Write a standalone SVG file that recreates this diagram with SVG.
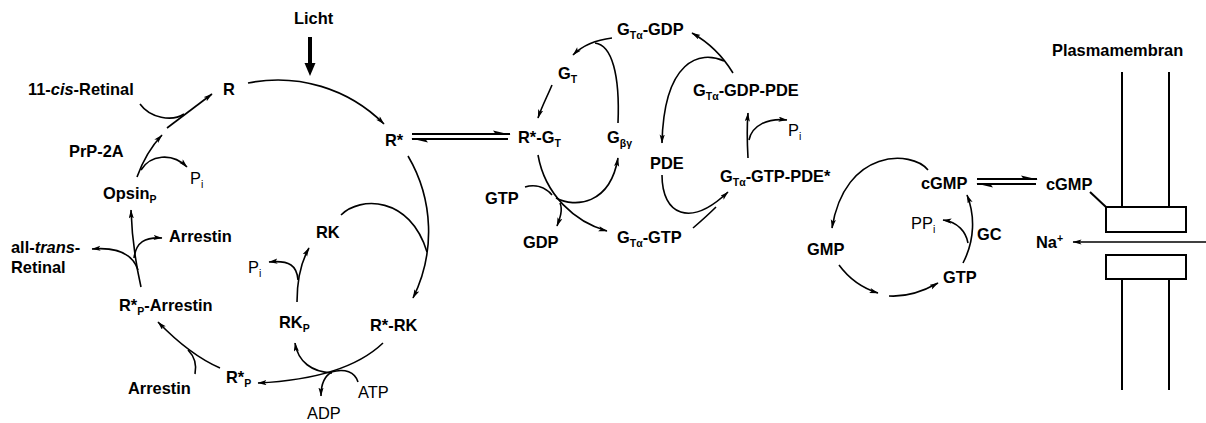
<svg xmlns="http://www.w3.org/2000/svg" width="1206" height="423" viewBox="0 0 1206 423">
<defs>
<marker id="ah" markerUnits="userSpaceOnUse" markerWidth="10" markerHeight="6" refX="8.5" refY="2.6" orient="auto">
<path d="M0,0 L9,2.6 L0,5.2 L2,2.6 z" fill="#000"/>
</marker>
<style>
text{font-family:"Liberation Sans",Arial,sans-serif;font-size:16.4px;fill:#000}
.b{font-weight:bold}
.r{font-weight:normal}
.sb{font-size:10.5px}
.c{fill:none;stroke:#000;stroke-width:1.6}
.a{marker-end:url(#ah)}
.eq{stroke:#000;stroke-width:1.8}
.m{fill:none;stroke:#000;stroke-width:2}
</style>
</defs>
<rect width="1206" height="423" fill="#fff"/>

<g id="connectors">
<!-- light -->
<line x1="310" y1="37" x2="310" y2="64" stroke="#000" stroke-width="4"/>
<polygon points="304.5,63 315.5,63 310,76" fill="#000"/>
<!-- left cycle -->
<path class="c a" d="M248,83 A150,150 0 0 1 384,124"/>
<path class="c a" d="M408,156 A149,149 0 0 1 413,298"/>
<path class="c" d="M341,215 C360,196 410,196 427,252"/>
<path class="c a" d="M383,343 C360,365 320,380 258,383"/>
<path class="c a" d="M332,373 C312,372 298,362 295,343"/>
<path class="c" d="M358,382 C355,372 345,368 331,372"/>
<path class="c a" d="M332,372 C324,376 321,385 321,396"/>
<path class="c a" d="M297,302 C297,280 301,262 309,248"/>
<path class="c a" d="M298,280 C297,266 290,260 269,262"/>
<path class="c a" d="M220,368 Q190,355 158,322"/>
<path class="c" d="M195,374 C197,364 195,357 188,350"/>
<path class="c a" d="M141,287 C136,265 132,240 131,210"/>
<path class="c a" d="M138,270 C132,252 115,247 92,249"/>
<path class="c a" d="M134,258 C136,242 145,237 162,238"/>
<path class="c a" d="M137,177 Q146,152 162,135"/>
<path class="c a" d="M141,170 C150,155 172,152 187,167"/>
<path class="c a" d="M167,128 L212,94"/>
<path class="c" d="M140,104 C150,118 172,122 184,114"/>
<!-- R* equilibrium -->
<line class="eq" x1="412" y1="134" x2="510" y2="134"/>
<polygon points="511,134.6 493,130.6 496,134.6" fill="#000"/>
<line class="eq" x1="412" y1="139" x2="508" y2="139"/>
<polygon points="411,138.4 428,142.4 425,138.4" fill="#000"/>
<!-- middle cycle -->
<path class="c a" d="M538,155 C545,195 575,222 607,231"/>
<path class="c" d="M525,187 C535,184 545,187 552,195"/>
<path class="c a" d="M556,198 C575,208 610,205 618,158"/>
<path class="c a" d="M560,203 C563,210 560,218 557,226"/>
<path class="c" d="M618,123 C620,75 612,45 595,43"/>
<path class="c a" d="M612,38 C595,40 582,46 573,55"/>
<path class="c a" d="M552,85 C547,97 542,106 538,118"/>
<path class="c a" d="M733,73 C722,55 708,42 692,33"/>
<path class="c a" d="M724,61 C700,50 664,60 662,143"/>
<path class="c a" d="M662,175 C662,215 690,228 728,192"/>
<path class="c" d="M693,228 C700,222 708,215 716,207"/>
<path class="c a" d="M748,158 C747,140 747,125 748,113"/>
<path class="c a" d="M749,140 C752,125 768,118 787,120"/>
<!-- right cycle -->
<path class="c a" d="M928,170 C912,150 845,148 832,228"/>
<path class="c a" d="M839,265 C850,280 862,288 878,293"/>
<path class="c a" d="M889,296 C905,297 922,292 938,283"/>
<path class="c a" d="M963,263 C975,240 975,215 967,195"/>
<path class="c a" d="M968,243 C966,232 958,222 943,220"/>
<!-- cGMP equilibrium -->
<line class="eq" x1="977" y1="179" x2="1037" y2="179"/>
<polygon points="1038,179.6 1021,175.6 1024,179.6" fill="#000"/>
<line class="eq" x1="977" y1="184" x2="1036" y2="184"/>
<polygon points="976,183.4 993,187.4 990,183.4" fill="#000"/>
<!-- membrane link and Na -->
<line class="m" x1="1090" y1="192" x2="1106" y2="207"/>
<path class="c a" d="M1206,242 L1073,242"/>
</g>

<g id="membrane">
<line class="m" x1="1122" y1="72" x2="1122" y2="207"/>
<line class="m" x1="1169" y1="72" x2="1169" y2="207"/>
<rect class="m" x="1106" y="207" width="80" height="25"/>
<rect class="m" x="1106" y="255" width="80" height="24"/>
<line class="m" x1="1122" y1="279" x2="1122" y2="390"/>
<line class="m" x1="1169" y1="279" x2="1169" y2="390"/>
</g>

<g id="licht"><text class="b" x="294" y="24">Licht</text></g>
<g id="cis-retinal"><text class="b" x="28" y="95">11-<tspan font-style="italic">cis</tspan>-Retinal</text></g>
<g id="R"><text class="b" x="223" y="95">R</text></g>
<g id="Rstar"><text class="b" x="385" y="146">R*</text></g>
<g id="prp2a"><text class="b" x="69" y="157">PrP-2A</text></g>
<g id="pi1"><text class="r" x="190" y="184">P<tspan class="sb" font-size="11" dy="4">i</tspan></text></g>
<g id="opsinP"><text class="b" x="103" y="199">Opsin<tspan class="sb" dy="4">P</tspan></text></g>
<g id="arrestin1"><text class="b" x="169" y="242">Arrestin</text></g>
<g id="all-trans"><text class="b" x="11" y="253">all-<tspan font-style="italic">trans</tspan>-</text><text class="b" x="11" y="273">Retinal</text></g>
<g id="RPArrestin"><text class="b" x="119" y="311">R*<tspan class="sb" dy="4">P</tspan><tspan dy="-4">-Arrestin</tspan></text></g>
<g id="arrestin2"><text class="b" x="128" y="394">Arrestin</text></g>
<g id="RstarP"><text class="b" x="226" y="383">R*<tspan class="sb" dy="4">P</tspan></text></g>
<g id="RK"><text class="b" x="316" y="238">RK</text></g>
<g id="pi2"><text class="r" x="248" y="273">P<tspan class="sb" font-size="11" dy="4">i</tspan></text></g>
<g id="RKP"><text class="b" x="279" y="328">RK<tspan class="sb" dy="4">P</tspan></text></g>
<g id="RstarRK"><text class="b" x="370" y="331">R*-RK</text></g>
<g id="ATP"><text class="r" x="358" y="398">ATP</text></g>
<g id="ADP"><text class="r" x="307" y="419">ADP</text></g>

<g id="RstarGT"><text class="b" x="518" y="143">R*-G<tspan class="sb" dy="4">T</tspan></text></g>
<g id="GT"><text class="b" x="558" y="79">G<tspan class="sb" dy="4">T</tspan></text></g>
<g id="GTaGDP"><text class="b" x="617" y="35">G<tspan class="sb" dy="4">Tα</tspan><tspan dy="-4">-GDP</tspan></text></g>
<g id="Gbg"><text class="b" x="607" y="143">G<tspan class="sb" dy="4">βγ</tspan></text></g>
<g id="GTaGDPPDE"><text class="b" x="693" y="96">G<tspan class="sb" dy="4">Tα</tspan><tspan dy="-4">-GDP-PDE</tspan></text></g>
<g id="pi3"><text class="r" x="788" y="136">P<tspan class="sb" font-size="11" dy="4">i</tspan></text></g>
<g id="PDE"><text class="b" x="650" y="169">PDE</text></g>
<g id="GTaGTPPDE"><text class="b" x="720" y="182">G<tspan class="sb" dy="4">Tα</tspan><tspan dy="-4">-GTP-PDE*</tspan></text></g>
<g id="GTP1"><text class="b" x="485" y="204">GTP</text></g>
<g id="GDP1"><text class="b" x="523" y="248">GDP</text></g>
<g id="GTaGTP"><text class="b" x="617" y="243">G<tspan class="sb" dy="4">Tα</tspan><tspan dy="-4">-GTP</tspan></text></g>

<g id="cGMP1"><text class="b" x="921" y="189">cGMP</text></g>
<g id="GMP"><text class="b" x="807" y="255">GMP</text></g>
<g id="GTP2"><text class="b" x="943" y="283">GTP</text></g>
<g id="GC"><text class="b" x="977" y="240">GC</text></g>
<g id="PPi"><text class="r" x="911" y="229">PP<tspan class="sb" font-size="11" dy="4">i</tspan></text></g>
<g id="cGMP2"><text class="b" x="1046" y="190">cGMP</text></g>
<g id="Na"><text class="b" x="1036" y="248">Na<tspan class="sb" font-size="9" dy="-6">+</tspan></text></g>
<g id="plasmamembran"><text class="b" x="1052" y="56">Plasmamembran</text></g>
</svg>
